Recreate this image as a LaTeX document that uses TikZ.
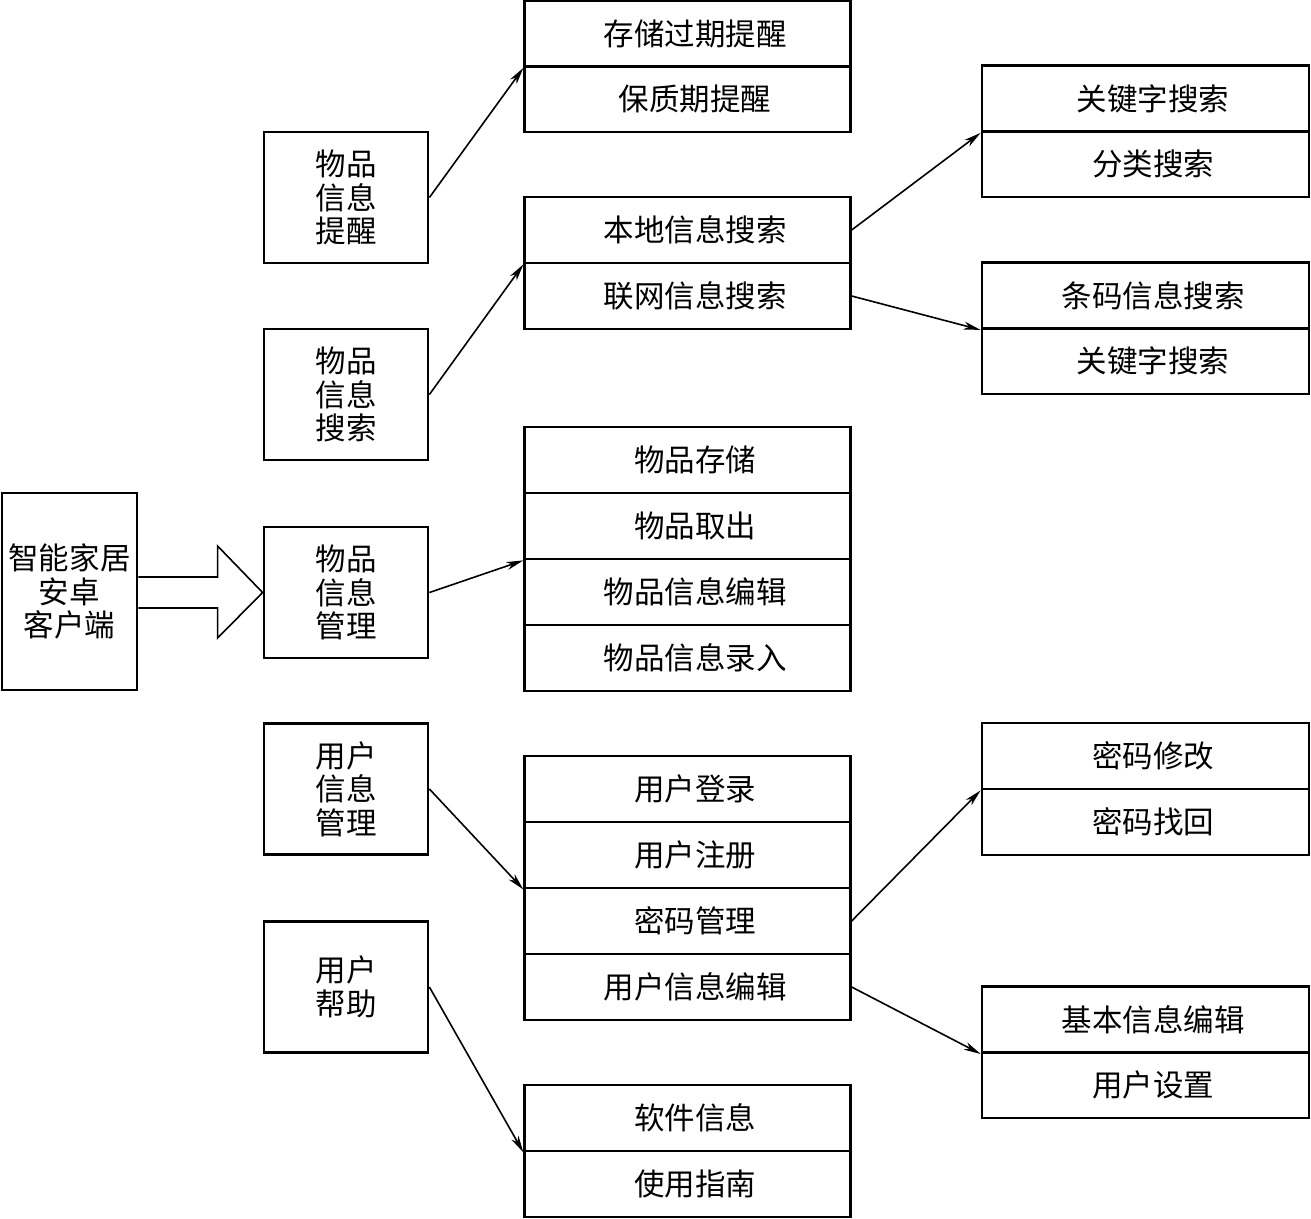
\documentclass[tikz,border=0pt]{standalone}
\usepackage{fontspec}
\newfontfamily\cjk{Noto Sans CJK SC}
\usetikzlibrary{arrows.meta,calc}
\begin{document}
\begin{tikzpicture}[x=1pt,y=-1pt,
  every node/.style={font=\cjk\fontsize{30.5}{33.5}\selectfont},
  cell/.style={draw,line width=2.8pt,inner sep=0pt,minimum width=325.5pt,minimum height=66pt,execute at begin node={\hskip15pt}},
  cellw/.style={cell,minimum width=327pt},
  side/.style={draw,line width=2.8pt,inner sep=0pt,minimum width=164pt,minimum height=131pt,align=center},
  conn/.style={line width=1.6pt,-{Stealth[length=17pt,width=8pt,inset=5pt]}},
  bigarrow/.style={line width=1.6pt,line join=miter}]
\useasboundingbox (0,0) rectangle (1311,1218);
% root
\node[draw,line width=2.8pt,inner sep=0pt,minimum width=135pt,minimum height=197pt,align=center] (client) at (69.5,591.5) {智能家居\\安卓\\客户端};
% second level
\node[side] (remind) at (346,197.5) {物品\\信息\\提醒};
\node[side] (search) at (346,394.5) {物品\\信息\\搜索};
\node[side] (mgmt) at (346,592.5) {物品\\信息\\管理};
\node[side] (user) at (346,789) {用户\\信息\\管理};
\node[side] (help) at (346,987) {用户\\帮助};
% group A
\node[cell] (a1) at (687.5,33.5) {存储过期提醒};
\node[cell] (a2) at (687.5,99) {保质期提醒};
% group B
\node[cell] (b1) at (687.5,230) {本地信息搜索};
\node[cell] (b2) at (687.5,296) {联网信息搜索};
% group C
\node[cell] (c1) at (687.5,460) {物品存储};
\node[cell] (c2) at (687.5,526) {物品取出};
\node[cell] (c3) at (687.5,592) {物品信息编辑};
\node[cell] (c4) at (687.5,658) {物品信息录入};
% group D
\node[cell] (d1) at (687.5,789) {用户登录};
\node[cell] (d2) at (687.5,855) {用户注册};
\node[cell] (d3) at (687.5,921) {密码管理};
\node[cell] (d4) at (687.5,987) {用户信息编辑};
% group E
\node[cell] (e1) at (687.5,1118) {软件信息};
\node[cell] (e2) at (687.5,1184) {使用指南};
% right column
\node[cellw] (r1) at (1145.5,98.5) {关键字搜索};
\node[cellw] (r2) at (1145.5,164) {分类搜索};
\node[cellw] (r3) at (1145.5,295.5) {条码信息搜索};
\node[cellw] (r4) at (1145.5,361) {关键字搜索};
\node[cellw] (r5) at (1145.5,756) {密码修改};
\node[cellw] (r6) at (1145.5,822) {密码找回};
\node[cellw] (r7) at (1145.5,1019.5) {基本信息编辑};
\node[cellw] (r8) at (1145.5,1085) {用户设置};
% big arrow
\coordinate (hs1) at ($(mgmt.west)+(-45,-15.5)$);
\coordinate (hh1) at ($(mgmt.west)+(-45,-46.5)$);
\coordinate (hh2) at ($(mgmt.west)+(-45,45.5)$);
\coordinate (hs2) at ($(mgmt.west)+(-45,15.5)$);
\draw[bigarrow] (client.east |- hs1) -- (hs1) -- (hh1) -- (mgmt.west) -- (hh2) -- (hs2) -- (client.east |- hs2);
% connectors
\draw[conn] (remind.east) -- (a1.south west);
\draw[conn] (search.east) -- (b1.south west);
\draw[conn] (mgmt.east) -- (c2.south west);
\draw[conn] (user.east) -- (d2.south west);
\draw[conn] (help.east) -- (e1.south west);
\draw[conn] (b1.east) -- (r1.south west);
\draw[conn] (b2.east) -- (r3.south west);
\draw[conn] (d3.east) -- (r5.south west);
\draw[conn] (d4.east) -- (r7.south west);
\end{tikzpicture}
\end{document}
